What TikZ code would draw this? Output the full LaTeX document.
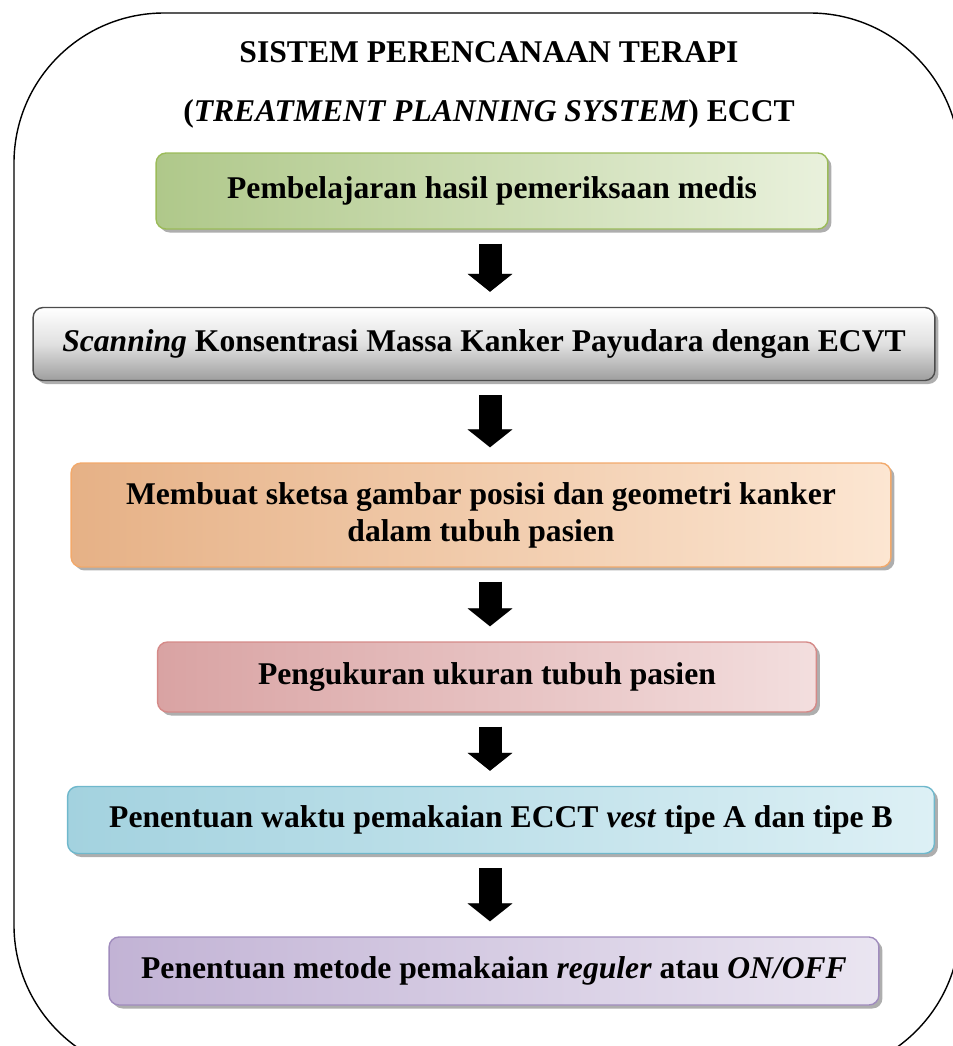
\documentclass[tikz,border=0pt]{standalone}
\usepackage{fontspec}
\setmainfont{Liberation Serif}
\usetikzlibrary{shadows,arrows.meta,positioning}

\definecolor{grnline}{HTML}{9BBB59}
\definecolor{grndark}{HTML}{AFC88A}
\definecolor{grnlight}{HTML}{E9F1DC}
\definecolor{orgline}{HTML}{F2A96B}
\definecolor{orgdark}{HTML}{E6B186}
\definecolor{orglight}{HTML}{FCE6D2}
\definecolor{redline}{HTML}{D58A88}
\definecolor{reddark}{HTML}{D9A3A3}
\definecolor{redlight}{HTML}{F3DEDE}
\definecolor{bluline}{HTML}{6FB8CC}
\definecolor{bludark}{HTML}{A3D2DF}
\definecolor{blulight}{HTML}{DDF0F5}
\definecolor{purline}{HTML}{A08CBD}
\definecolor{purdark}{HTML}{C2B3D5}
\definecolor{purlight}{HTML}{EAE5F1}

\tikzset{
  stepbox/.style={draw, rounded corners=0.2cm, inner sep=0pt, align=center,
    line width=0.8pt, font=\bfseries\fontsize{18}{21}\selectfont,
    drop shadow={shadow xshift=0.07cm, shadow yshift=-0.07cm, fill=black!45, opacity=0.7}},
  flowarrow/.style={line width=0.46cm, -{Triangle[width=0.88cm,length=0.36cm]},
    shorten <=0.28cm, shorten >=0.3cm},
  arrowshade/.style={flowarrow, draw=black!40, xshift=0.08cm, yshift=-0.08cm}
}

\begin{document}
\begin{tikzpicture}[x=0.02cm, y=-0.02cm]
  \useasboundingbox (0,0) rectangle (953,1046);
  \begin{scope}
    \clip (0,0) rectangle (953,1046);
    \draw[line width=0.8pt, rounded corners=3cm] (14,13) rectangle (960,1075);
  \end{scope}

  \node[font=\bfseries\fontsize{18}{34}\selectfont, align=center] (title) at (489,85)
    {SISTEM PERENCANAAN TERAPI\\(\textit{TREATMENT PLANNING SYSTEM}) ECCT};

  \node[stepbox, draw=grnline, left color=grndark, right color=grnlight,
        minimum width=13.44cm, minimum height=1.52cm] (learn) at (492,191)
    {Pembelajaran hasil pemeriksaan medis};
  \node[stepbox, draw=black!70, top color=white, bottom color=black!38, middle color=black!12,
        minimum width=18.04cm, minimum height=1.46cm] (scan) at (484,344)
    {\textit{Scanning} Konsentrasi Massa Kanker Payudara dengan ECVT};
  \node[stepbox, draw=orgline, left color=orgdark, right color=orglight,
        minimum width=16.4cm, minimum height=2.08cm] (sketch) at (481,515)
    {Membuat sketsa gambar posisi dan geometri kanker\\dalam tubuh pasien};
  \node[stepbox, draw=redline, left color=reddark, right color=redlight,
        minimum width=13.18cm, minimum height=1.4cm] (measure) at (487,677)
    {Pengukuran ukuran tubuh pasien};
  \node[stepbox, draw=bluline, left color=bludark, right color=blulight,
        minimum width=17.34cm, minimum height=1.34cm] (timing) at (501,820)
    {Penentuan waktu pemakaian ECCT \textit{vest} tipe A dan tipe B};
  \node[stepbox, draw=purline, left color=purdark, right color=purlight,
        minimum width=15.4cm, minimum height=1.36cm] (method) at (494,971)
    {Penentuan metode pemakaian \textit{reguler} atau \textit{ON/OFF}};

  \coordinate (axis) at (490,0);
  \foreach \a/\b in {learn/scan, scan/sketch, sketch/measure, measure/timing, timing/method} {
    \draw[arrowshade] (\a.south -| axis) -- (\b.north -| axis);
    \draw[flowarrow] (\a.south -| axis) -- (\b.north -| axis);
  }
\end{tikzpicture}
\end{document}
